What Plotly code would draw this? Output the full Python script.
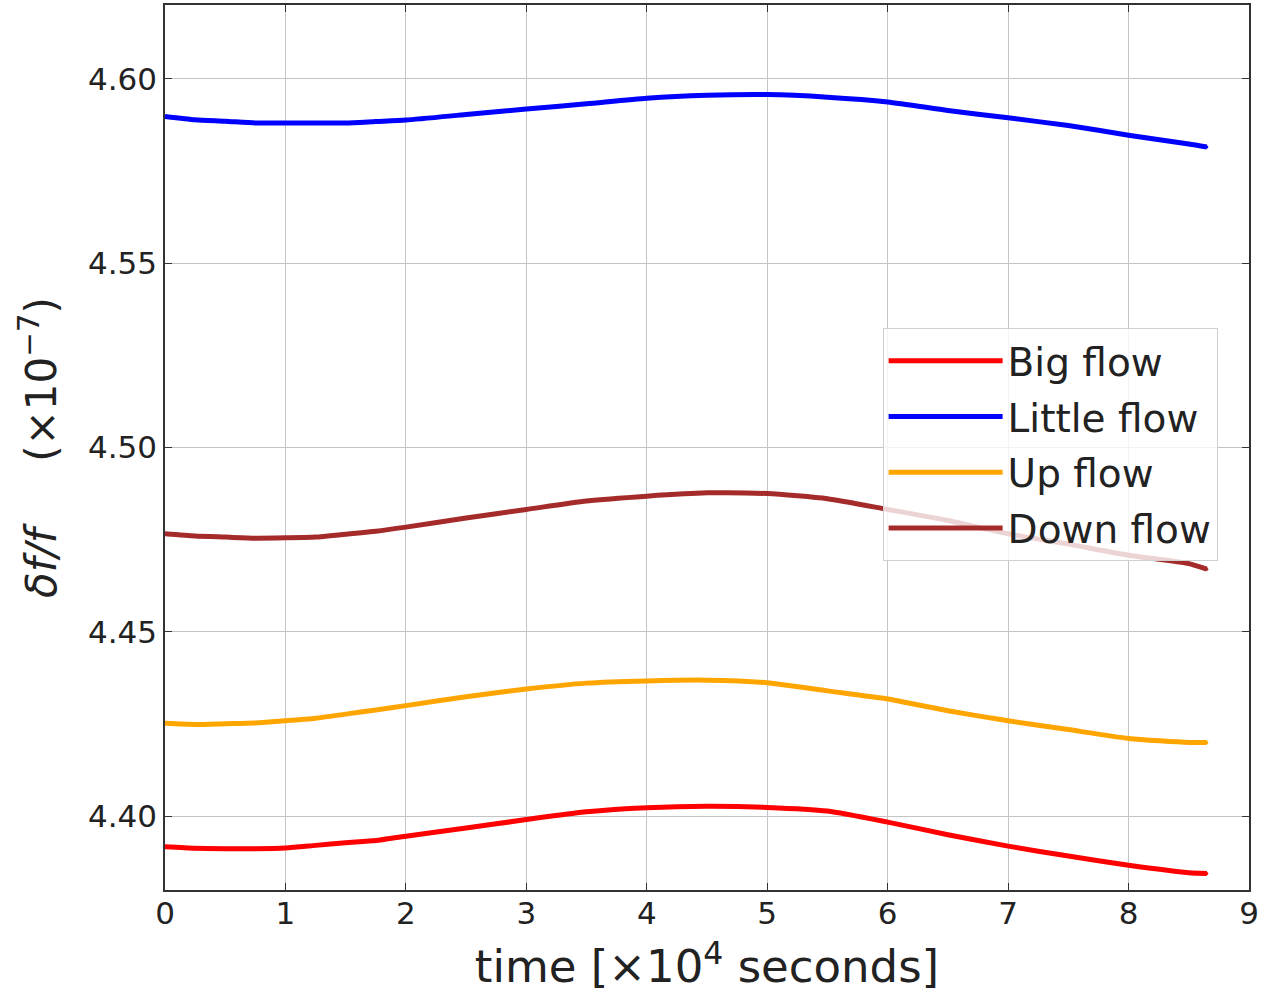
import plotly.graph_objects as go

# time in units of 1e4 seconds
t = [0, 0.25, 0.5, 0.75, 1.0, 1.25, 1.5, 1.75, 2.0, 2.5, 3.0, 3.5, 4.0, 4.5,
     5.0, 5.5, 6.0, 6.5, 7.0, 7.5, 8.0, 8.5, 8.65]

big_flow = [4.3917, 4.3913, 4.3912, 4.3912, 4.3914, 4.3921, 4.3928, 4.3934, 4.3946,
            4.3968, 4.3991, 4.4012, 4.4023, 4.4027, 4.4024, 4.4014, 4.3984, 4.3950,
            4.3919, 4.3892, 4.3867, 4.3847, 4.3845]
little_flow = [4.5898, 4.5889, 4.5885, 4.5880, 4.5880, 4.5880, 4.5880, 4.5884, 4.5888,
               4.5903, 4.5918, 4.5932, 4.5947, 4.5955, 4.5957, 4.5950, 4.5937, 4.5914,
               4.5894, 4.5873, 4.5847, 4.5823, 4.5815]
up_flow = [4.4252, 4.4249, 4.4251, 4.4253, 4.4259, 4.4266, 4.4277, 4.4288, 4.4300,
           4.4324, 4.4345, 4.4361, 4.4367, 4.4369, 4.4362, 4.4340, 4.4318, 4.4286,
           4.4259, 4.4235, 4.4211, 4.4200, 4.4200]
down_flow = [4.4766, 4.4760, 4.4757, 4.4754, 4.4755, 4.4757, 4.4765, 4.4773, 4.4784,
             4.4809, 4.4832, 4.4855, 4.4868, 4.4877, 4.4875, 4.4861, 4.4832, 4.4802,
             4.4766, 4.4738, 4.4708, 4.4685, 4.4670]

series = [
    ("Big flow", big_flow, "#ff0000"),
    ("Little flow", little_flow, "#0000ff"),
    ("Up flow", up_flow, "#ffa500"),
    ("Down flow", down_flow, "#a52a2a"),
]

y_ticks = [4.40, 4.45, 4.50, 4.55, 4.60]
x_ticks = [0, 1, 2, 3, 4, 5, 6, 7, 8, 9]

fig = go.Figure()
for name, vals, color in series:
    fig.add_trace(go.Scatter(
        x=t, y=vals, name=name, mode="lines+markers", legendgroup=name,
        line=dict(color=color, width=5, shape="spline", smoothing=0.6),
        marker=dict(color=color, size=3),
    ))

font = "DejaVu Sans, Liberation Sans, sans-serif"
axis_common = dict(
    showline=True, linecolor="#333333", linewidth=1.5, mirror="ticks",
    ticks="inside", ticklen=7, tickwidth=1.2, tickcolor="#333333",
    showgrid=True, gridcolor="#c4c4c4", gridwidth=1,
    zeroline=False, tickfont=dict(family=font, size=31, color="#222222"),
)

fig.update_xaxes(
    range=[0, 9], tickvals=x_ticks, ticktext=[str(v) for v in x_ticks],
    ticklabelstandoff=-5,
    title=dict(text="time [×10<sup>4</sup> seconds]",
               font=dict(family=font, size=45, color="#222222"), standoff=21),
    **axis_common,
)
fig.update_yaxes(
    range=[4.38, 4.62], tickvals=y_ticks, ticktext=[f"{v:.2f}" for v in y_ticks],
    title=dict(text="<i>δf/f</i>\u00a0\u00a0\u00a0\u00a0\u00a0(×10<sup>−7</sup>)",
               font=dict(family=font, size=42, color="#222222"), standoff=18),
    **axis_common,
)

fig.update_layout(
    width=1262, height=994,
    margin=dict(l=165, r=13, t=3, b=104),
    paper_bgcolor="white", plot_bgcolor="white",
    showlegend=True,
    legend=dict(
        x=0.662, y=0.635, xanchor="left", yanchor="top",
        bgcolor="rgba(255,255,255,0.8)", bordercolor="#d0d0d0", borderwidth=1,
        font=dict(family=font, size=39, color="#222222"),
        itemwidth=114, tracegroupgap=2,
    ),
)

fig.write_html("out.html")
